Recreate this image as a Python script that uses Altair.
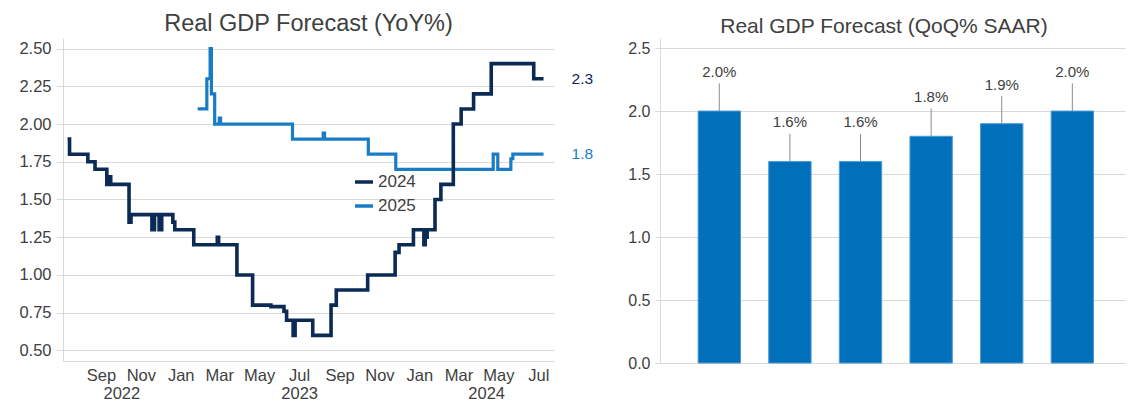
import altair as alt
import pandas as pd

FONT = "Liberation Sans"
TXT = "#404040"
GRID = "#d9d9d9"
NAVY = "#0b2a55"
BLUE = "#1b7cc6"
BAR = "#0070ba"

# ---------------- Left chart data: Real GDP Forecast (YoY%) ----------------
s2024_dates = ["2022-07-12", "2022-07-15", "2022-08-12", "2022-08-23", "2022-09-10",
               "2022-09-13", "2022-09-16", "2022-10-14", "2022-10-17", "2022-11-18",
               "2022-11-22", "2022-11-29", "2022-12-03", "2022-12-20", "2022-12-23",
               "2023-01-21", "2023-02-26", "2023-02-28", "2023-03-28", "2023-04-21",
               "2023-05-19", "2023-06-08", "2023-06-12", "2023-06-22", "2023-06-25",
               "2023-07-22", "2023-08-19", "2023-08-27", "2023-10-14", "2023-11-25",
               "2023-12-01", "2023-12-23", "2024-01-08", "2024-01-10", "2024-01-13",
               "2024-01-25", "2024-02-03", "2024-02-22", "2024-03-05", "2024-03-24",
               "2024-04-20", "2024-06-24", "2024-07-09"]
s2024_values = [1.9, 1.8, 1.75, 1.7, 1.6,
                1.65, 1.6, 1.35, 1.4, 1.3,
                1.4, 1.3, 1.4, 1.35, 1.3,
                1.2, 1.25, 1.2, 1.0, 0.8,
                0.79, 0.76, 0.7, 0.6, 0.7,
                0.6, 0.8, 0.9, 1.0, 1.15,
                1.2, 1.3, 1.2, 1.25, 1.3,
                1.5, 1.6, 2.0, 2.1, 2.2,
                2.4, 2.3, 2.3]

s2025_dates = ["2023-01-27", "2023-02-10", "2023-02-15", "2023-02-17", "2023-02-22",
               "2023-03-01", "2023-03-03", "2023-06-21", "2023-08-07", "2023-08-09",
               "2023-10-15", "2023-11-26", "2024-04-23", "2024-04-30", "2024-05-20",
               "2024-05-23", "2024-07-09"]
s2025_values = [2.1, 2.3, 2.5, 2.2, 2.0,
                2.04, 2.0, 1.9, 1.94, 1.9,
                1.8, 1.7, 1.8, 1.7, 1.77,
                1.8, 1.8]

series_names = ["2024", "2025"]
left_y_ticks = [0.5, 0.75, 1.0, 1.25, 1.5, 1.75, 2.0, 2.25, 2.5]
month_tick_dates = ["2022-09-01", "2022-11-01", "2023-01-01", "2023-03-01",
                    "2023-05-01", "2023-07-01", "2023-09-01", "2023-11-01",
                    "2024-01-01", "2024-03-01", "2024-05-01", "2024-07-01"]
x_domain = ["2022-07-05", "2024-07-25"]
years = ["2022", "2023", "2024"]

# ---------------- Right chart data: Real GDP Forecast (QoQ% SAAR) ----------------
qoq_quarters = ["Q1", "Q2", "Q3", "Q4", "Q5", "Q6"]
qoq_values = [2.0, 1.6, 1.6, 1.8, 1.9, 2.0]
right_y_ticks = [0.0, 0.5, 1.0, 1.5, 2.0, 2.5]


def to_dt(s):
    y, m, d = (int(p) for p in s.split("-"))
    return alt.DateTime(year=y, month=m, date=d, utc=True)


df_line = pd.concat([
    pd.DataFrame({"date": s2024_dates, "value": s2024_values, "series": "2024"}),
    pd.DataFrame({"date": s2025_dates, "value": s2025_values, "series": "2025"}),
], ignore_index=True)

df_end = pd.DataFrame({
    "date": [s2024_dates[-1], s2025_dates[-1]],
    "value": [s2024_values[-1], s2025_values[-1]],
    "series": series_names,
})

dom_start = pd.Timestamp(x_domain[0])
dom_end = pd.Timestamp(x_domain[1])
year_rows = []
for yr in years:
    a = max(dom_start, pd.Timestamp(f"{yr}-01-01"))
    b = min(dom_end, pd.Timestamp(f"{int(yr) + 1}-01-01"))
    year_rows.append({"date": (a + (b - a) / 2).strftime("%Y-%m-%d"), "year": yr})
df_year = pd.DataFrame(year_rows)

LW, LH = 491, 323
xenc = alt.X(
    "date:T",
    scale=alt.Scale(type="utc", domain=[to_dt(d) for d in x_domain]),
    axis=alt.Axis(values=[to_dt(d) for d in month_tick_dates], format="%b",
                  labelAngle=0, ticks=False, grid=False, domain=True,
                  labelPadding=6, labelFontSize=16.5, title=None,
                  labelOverlap=False, labelFlush=False),
)
yenc = alt.Y(
    "value:Q",
    scale=alt.Scale(domain=[0.43, 2.57], nice=False, zero=False),
    axis=alt.Axis(values=left_y_ticks, format=".2f", tickSize=7, labelPadding=5,
                  labelFontSize=16.5, title=None, grid=True),
)
color = alt.Color(
    "series:N",
    scale=alt.Scale(domain=series_names, range=[NAVY, BLUE]),
    legend=alt.Legend(orient="none", legendX=290, legendY=133, title=None,
                      symbolType="stroke", symbolSize=324, symbolStrokeWidth=3.5,
                      labelFontSize=17, labelColor=TXT, labelFont=FONT,
                      rowPadding=5, labelOffset=3, padding=0),
)

base = alt.Chart(df_line)
line25 = base.transform_filter("datum.series == '2025'").mark_line(
    interpolate="step-after", strokeWidth=3.2).encode(x=xenc, y=yenc, color=color)
line24 = base.transform_filter("datum.series == '2024'").mark_line(
    interpolate="step-after", strokeWidth=3.6).encode(x=xenc, y=yenc, color=color)
end_labels = alt.Chart(df_end).mark_text(
    align="left", baseline="middle", dx=28, fontSize=15.5, font=FONT
).encode(x=xenc, y=yenc, color=color, text=alt.Text("value:Q", format=".1f"))
year_labels = alt.Chart(df_year).mark_text(
    baseline="middle", fontSize=16.5, font=FONT, color=TXT
).encode(x=xenc, y=alt.value(LH + 33), text="year:N")

left = alt.layer(line25, line24, end_labels, year_labels).properties(
    width=LW, height=LH,
    title=alt.TitleParams("Real GDP Forecast (YoY%)", fontSize=23.5, offset=3),
)

# ---------------- Right chart ----------------
df_bar = pd.DataFrame({"q": qoq_quarters, "v": qoq_values})
RW, RH = 466, 325
xb = alt.X("q:N", sort=qoq_quarters,
           scale=alt.Scale(paddingInner=0.4, paddingOuter=0.5, align=0.54),
           axis=alt.Axis(labels=False, ticks=False, domain=True, title=None, grid=False))
yscale = alt.Scale(domain=[0, 2.58], nice=False)
yaxis = alt.Axis(values=right_y_ticks, format=".1f", tickSize=5, labelPadding=5,
                 labelFontSize=16, title=None, grid=True)

bars = alt.Chart(df_bar).mark_bar(color=BAR, stroke="#4f9ad6", strokeWidth=1).encode(
    x=xb, y=alt.Y("v:Q", scale=yscale, axis=yaxis))
leaders = alt.Chart(df_bar).transform_calculate(top="datum.v + 0.22").mark_rule(
    color="#8c8c8c", strokeWidth=1).encode(
    x=xb, y=alt.Y("v:Q", scale=yscale, axis=yaxis), y2="top:Q")
bar_labels = alt.Chart(df_bar).transform_calculate(
    ly="datum.v + 0.31", lab="format(datum.v, '.1f') + '%'"
).mark_text(baseline="middle", fontSize=15, font=FONT, color=TXT).encode(
    x=xb, y=alt.Y("ly:Q", scale=yscale, axis=yaxis), text="lab:N")

right = alt.layer(bars, leaders, bar_labels).properties(
    width=RW, height=RH,
    title=alt.TitleParams("Real GDP Forecast (QoQ% SAAR)", fontSize=21, offset=1, dx=-9),
)

chart = alt.hconcat(left, right, spacing=106, bounds="flush").properties(
    padding={"left": 10, "top": 3, "right": 0, "bottom": 0}
).configure_view(stroke=None).configure_axis(
    labelFont=FONT, labelColor=TXT, gridColor=GRID, domainColor=GRID,
    tickColor=GRID, gridWidth=1, domainWidth=1,
).configure_title(font=FONT, color=TXT, fontWeight="normal", anchor="middle")

chart.save("out.html", embed_options={"renderer": "svg", "actions": False})
